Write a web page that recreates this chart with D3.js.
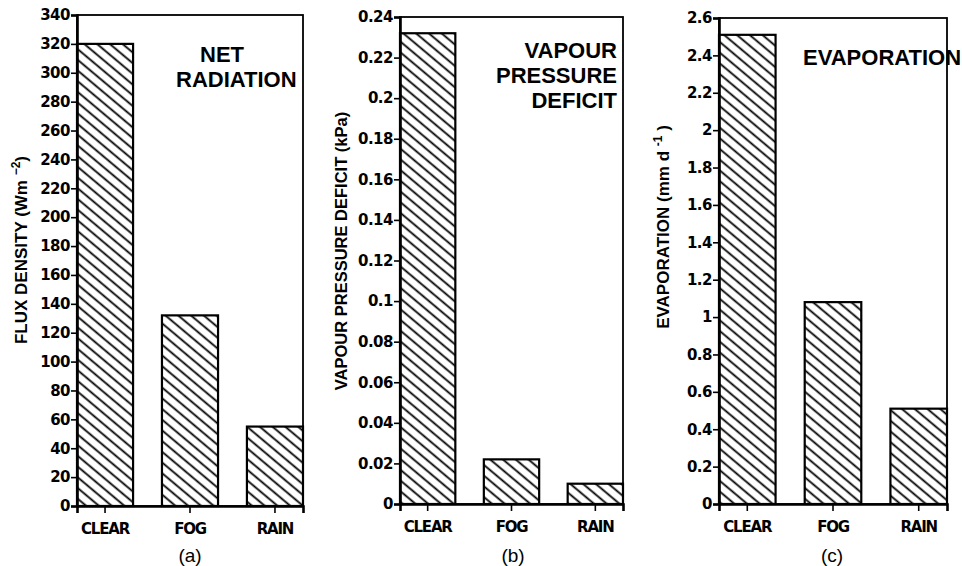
<!DOCTYPE html>
<html>
<head>
<meta charset="utf-8">
<script src="https://cdn.jsdelivr.net/npm/d3@7"></script>
<style>
  html, body { margin: 0; padding: 0; background: #fff; }
  svg { display: block; }
</style>
</head>
<body>
<svg id="chart" width="962" height="566"></svg>
<script>
// ---- data ----
const categories = ["CLEAR", "FOG", "RAIN"];
const netRadiation = [320, 132, 55];
const vapourPressureDeficit = [0.232, 0.022, 0.010];
const evaporation = [2.51, 1.08, 0.51];

const ticksA = [0, 20, 40, 60, 80, 100, 120, 140, 160, 180, 200, 220, 240, 260, 280, 300, 320, 340];
const ticksB = [0, 0.02, 0.04, 0.06, 0.08, 0.1, 0.12, 0.14, 0.16, 0.18, 0.2, 0.22, 0.24];
const ticksC = [0, 0.2, 0.4, 0.6, 0.8, 1, 1.2, 1.4, 1.6, 1.8, 2, 2.2, 2.4, 2.6];

const titleA = ["NET", "RADIATION"];
const titleB = ["VAPOUR", "PRESSURE", "DEFICIT"];
const titleC = ["EVAPORATION"];
const panelLetters = ["(a)", "(b)", "(c)"];

// ---- drawing ----
const svg = d3.select("#chart");
const defs = svg.append("defs");
const pat = defs.append("pattern")
  .attr("id", "hatch")
  .attr("patternUnits", "userSpaceOnUse")
  .attr("width", 10).attr("height", 8.2)
  .attr("patternTransform", "rotate(40)");
pat.append("rect").attr("width", 10).attr("height", 8.2).attr("fill", "#fff");
pat.append("line").attr("x1", -1).attr("x2", 11).attr("y1", 4.1).attr("y2", 4.1)
  .attr("stroke", "#000").attr("stroke-width", 1.8);

const panels = [
  { values: netRadiation, ticks: ticksA, max: 340, x0: 77, x1: 303, top: 15, bottom: 506,
    title: titleA, letter: panelLetters[0], letterX: 190 },
  { values: vapourPressureDeficit, ticks: ticksB, max: 0.24, x0: 400, x1: 623, top: 17, bottom: 504,
    title: titleB, letter: panelLetters[1], letterX: 513 },
  { values: evaporation, ticks: ticksC, max: 2.6, x0: 719, x1: 947, top: 18, bottom: 504,
    title: titleC, letter: panelLetters[2], letterX: 832 }
];

const tickFont = "'DejaVu Sans', sans-serif";
const titleFont = "'Liberation Sans', Arial, sans-serif";

panels.forEach((p, i) => {
  const g = svg.append("g");
  const x = d3.scaleBand().domain(categories).range([p.x0, p.x1]).paddingInner(0.34).paddingOuter(0);
  const y = d3.scaleLinear().domain([0, p.max]).range([p.bottom, p.top]);

  // bars
  g.selectAll("rect.bar").data(p.values).join("rect")
    .attr("class", "bar")
    .attr("x", (d, j) => x(categories[j]))
    .attr("width", x.bandwidth())
    .attr("y", d => y(d))
    .attr("height", d => y(0) - y(d))
    .attr("fill", "url(#hatch)")
    .attr("stroke", "#000")
    .attr("stroke-width", 2.2);

  // frame
  g.append("rect")
    .attr("x", p.x0).attr("y", p.top)
    .attr("width", p.x1 - p.x0).attr("height", p.bottom - p.top)
    .attr("fill", "none").attr("stroke", "#000").attr("stroke-width", 1.8);

  // left axis
  const ya = g.append("g").attr("transform", `translate(${p.x0},0)`)
    .call(d3.axisLeft(y).tickValues(p.ticks).tickSize(6).tickPadding(1)
      .tickFormat(d => String(d)));
  ya.select(".domain").attr("stroke-width", 2.6);
  ya.selectAll(".tick line").attr("stroke-width", 1.6);
  ya.selectAll("text").attr("font-family", tickFont).attr("font-weight", "bold")
    .attr("font-size", 15).attr("letter-spacing", -0.5).attr("fill", "#000");

  // bottom axis
  const xa = g.append("g").attr("transform", `translate(0,${p.bottom})`)
    .call(d3.axisBottom(x).tickSize(7).tickPadding(10));
  xa.select(".domain").attr("stroke-width", 2.6);
  xa.selectAll(".tick line").attr("stroke-width", 1.6);
  xa.selectAll("text").attr("font-family", tickFont).attr("font-weight", "bold")
    .attr("font-size", 15).attr("letter-spacing", -1.2).attr("fill", "#000");

  // panel title
  const tg = g.append("g").attr("font-family", titleFont).attr("font-weight", "bold")
    .attr("font-size", 22).attr("fill", "#000");
  if (i === 0) {
    tg.append("text").attr("x", 200).attr("y", 62).text(p.title[0]);
    tg.append("text").attr("x", 176).attr("y", 87).text(p.title[1]);
  } else if (i === 1) {
    p.title.forEach((t, k) => tg.append("text").attr("x", 617).attr("y", 58 + 25 * k)
      .attr("text-anchor", "end").text(t));
  } else {
    tg.append("text").attr("x", 803).attr("y", 65).text(p.title[0]);
  }

  // panel letter
  g.append("text").attr("x", p.letterX).attr("y", 562)
    .attr("text-anchor", "middle").attr("font-family", titleFont)
    .attr("font-size", 19).attr("fill", "#000").text(p.letter);
});

// y-axis titles (rotated)
function axisTitle(cx, cy, size, parts) {
  const t = svg.append("text")
    .attr("transform", `translate(${cx},${cy}) rotate(-90)`)
    .attr("text-anchor", "middle")
    .attr("font-family", titleFont).attr("font-weight", "bold").attr("font-size", size)
    .attr("fill", "#000");
  parts.forEach(pt => {
    const ts = t.append("tspan").text(pt.t);
    if (pt.sup) ts.attr("font-size", 12).attr("dy", -7);
    if (pt.down) ts.attr("dy", 7);
  });
  return t;
}
axisTitle(27, 250, 17, [{ t: "FLUX DENSITY  (Wm " }, { t: "\u22122", sup: true }, { t: ")", down: true }]);
axisTitle(347, 251, 16.5, [{ t: "VAPOUR PRESSURE DEFICIT  (kPa)" }]);
axisTitle(669, 227, 17, [{ t: "EVAPORATION  (mm d " }, { t: "-1", sup: true }, { t: " )", down: true }]);
</script>
</body>
</html>
